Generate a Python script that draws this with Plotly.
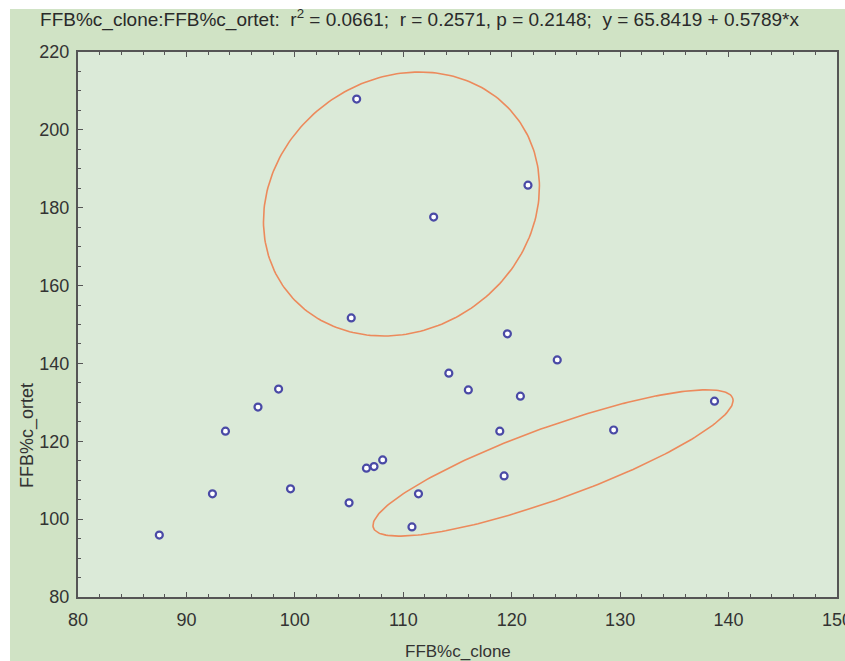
import numpy as np
import plotly.graph_objects as go

# ---- data ----
clone = [87.5, 92.4, 93.6, 96.6, 98.5, 99.6, 105.0, 105.2, 105.7, 106.6, 107.3, 108.1,
         111.4, 110.8, 112.8, 114.2, 116.0, 118.9, 119.3, 119.6, 120.8, 121.5, 124.2,
         129.4, 138.7]
ortet = [95.9, 106.5, 122.6, 128.8, 133.4, 107.8, 104.2, 151.7, 207.9, 113.1, 113.5, 115.2,
         106.5, 98.0, 177.6, 137.5, 133.2, 122.6, 111.1, 147.6, 131.6, 185.8, 140.9,
         122.9, 130.3]
x_ticks = [80, 90, 100, 110, 120, 130, 140, 150]
y_ticks = [80, 100, 120, 140, 160, 180, 200, 220]

title_text = ("FFB%c_clone:FFB%c_ortet:  r<sup>2</sup> = 0.0661;  r = 0.2571, p = 0.2148;  "
              "y = 65.8419 + 0.5789*x")
x_title = "FFB%c_clone"
y_title = "FFB%c_ortet"

# ---- layout geometry ----
W, H = 845, 661
ML, MR, MT, MB = 78, 8, 52, 64
PW, PH = W - ML - MR, H - MT - MB
XR, YR = [80, 150], [80, 220]
sx = PW / (XR[1] - XR[0])
sy = PH / (YR[1] - YR[0])

OUTER = "#d0e3c5"
INNER = "#dbead8"
AXC = "#555555"
TXT = "#333333"
FONT = "Liberation Sans, Arial, sans-serif"


def ellipse(cx, cy, a, b, ang):
    t = np.linspace(0, 2 * np.pi, 241)
    th = np.radians(ang)
    u, v = a * np.cos(t), b * np.sin(t)
    du = u * np.cos(th) - v * np.sin(th)
    dv = u * np.sin(th) + v * np.cos(th)
    return cx + du / sx, cy + dv / sy


fig = go.Figure()

# highlighted groups (ellipses)
for (cx, cy, a, b, ang) in [(109.83, 180.95, 144, 125.4, 35.6),
                            (123.81, 114.43, 191, 36, 19.85)]:
    ex, ey = ellipse(cx, cy, a, b, ang)
    fig.add_trace(go.Scatter(x=ex, y=ey, mode="lines",
                             line=dict(color="#ec8a5c", width=1.6),
                             hoverinfo="skip"))

fig.add_trace(go.Scatter(
    x=clone, y=ortet, mode="markers",
    marker=dict(symbol="circle", size=7, color="white",
                line=dict(color="#4a4aa6", width=2.2)),
))

axis_common = dict(
    showgrid=False, zeroline=False, showline=True, linecolor=AXC, linewidth=2,
    ticks="inside", ticklen=5, tickwidth=1, tickcolor=AXC,
    tickfont=dict(family=FONT, size=18, color=TXT),
    ticklabeloverflow="allow", automargin=False,
)

fig.update_xaxes(range=XR, tickvals=x_ticks, mirror="ticks",
                 minor=dict(dtick=2, ticks="inside", ticklen=3, tickcolor=AXC),
                 ticklabelstandoff=5, **axis_common)
fig.update_yaxes(range=YR, tickvals=y_ticks, mirror=True,
                 minor=dict(dtick=5, ticks="inside", ticklen=3, tickcolor=AXC),
                 ticklabelstandoff=3, **axis_common)

# white strips at top and left of the figure
y_bot = -MB / PH
y_top = 1 + MT / PH
x_left = -ML / PW
x_right = 1 + MR / PW
shapes = [
    dict(type="rect", xref="paper", yref="paper", x0=x_left, x1=x_right,
         y0=1 + (MT - 9) / PH, y1=y_top, fillcolor="white", line=dict(width=0), layer="above"),
    dict(type="rect", xref="paper", yref="paper", x0=x_left, x1=x_left + 10 / PW,
         y0=y_bot, y1=y_top, fillcolor="white", line=dict(width=0), layer="above"),
]

fig.update_layout(
    width=W, height=H,
    margin=dict(l=ML, r=MR, t=MT, b=MB, autoexpand=False),
    paper_bgcolor=OUTER, plot_bgcolor=INNER,
    showlegend=False,
    font=dict(family=FONT, color=TXT),
    title=dict(text=title_text, x=419.5 / W, xref="container", xanchor="center",
               y=1 - 19 / H, yref="container", yanchor="middle",
               font=dict(family=FONT, size=19, color="#2a2a2a")),
    shapes=shapes,
    annotations=[
        dict(text=x_title, xref="paper", yref="paper", x=0.5, y=-(651 - (H - MB)) / PH,
             xanchor="center", yanchor="middle", showarrow=False,
             font=dict(family=FONT, size=17, color=TXT)),
        dict(text=y_title, xref="paper", yref="paper", x=(27 - ML) / PW,
             y=((H - MB) - 436) / PH, xanchor="center", yanchor="middle",
             textangle=-90, showarrow=False,
             font=dict(family=FONT, size=18, color=TXT)),
    ],
)

fig.write_html("out.html")
